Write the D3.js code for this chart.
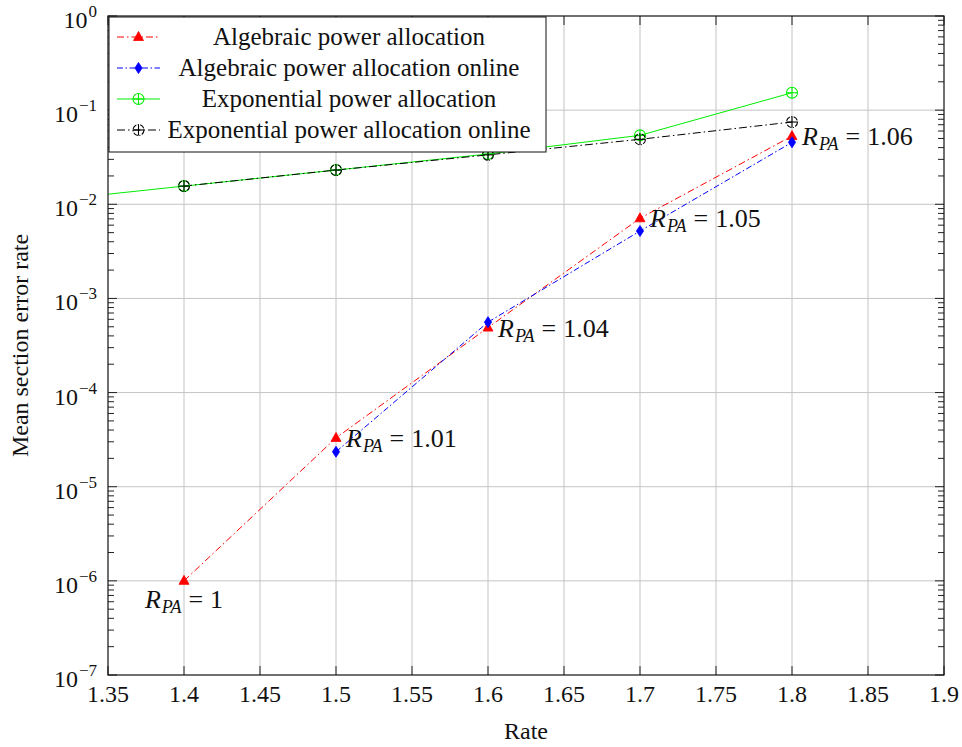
<!DOCTYPE html>
<html><head><meta charset="utf-8">
<script src="https://cdn.jsdelivr.net/npm/d3@7"></script>
<style>body{margin:0;background:#fff}svg{display:block}</style>
</head><body><svg id="c" width="962" height="747" font-family="Liberation Serif, Times New Roman, serif"></svg>
<script>
// ---- data ----
const rates = [1.4, 1.5, 1.6, 1.7, 1.8];
const algebraic = [1.0e-6, 3.3e-5, 4.9e-4, 7.1e-3, 0.053];
const algebraicOnline = [null, 2.35e-5, 5.6e-4, 5.2e-3, 0.0455];
const expRates = [1.3, 1.4, 1.5, 1.6, 1.7, 1.8];
const exponential = [0.0105, 0.0156, 0.0231, 0.0342, 0.054, 0.153];
const exponentialOnline = [null, 0.0156, 0.0231, 0.0335, 0.049, 0.0748];
const xTicks = [1.35, 1.4, 1.45, 1.5, 1.55, 1.6, 1.65, 1.7, 1.75, 1.8, 1.85, 1.9];
const yTickExps = [0, -1, -2, -3, -4, -5, -6, -7];
const rpaRates = [1.4, 1.5, 1.6, 1.7, 1.8];
const rpaLabels = ["1", "1.01", "1.04", "1.05", "1.06"];
const legendLabels = ["Algebraic power allocation", "Algebraic power allocation online", "Exponential power allocation", "Exponential power allocation online"];

// ---- layout ----
const svg = d3.select("#c");
const FF = "Liberation Serif";
const L = 108, R = 944, T = 16, B = 675;
const x = d3.scaleLinear().domain([1.35, 1.9]).range([L, R]);
const y = d3.scaleLog().domain([1e-7, 1]).range([B, T]);

svg.append("defs").append("clipPath").attr("id", "clip")
  .append("rect").attr("x", L).attr("y", T).attr("width", R - L).attr("height", B - T);

const grid = svg.append("g").attr("stroke", "#c4c4c4").attr("stroke-width", 1);
xTicks.slice(1, -1).forEach(v => grid.append("line").attr("x1", x(v)).attr("x2", x(v)).attr("y1", T).attr("y2", B));
yTickExps.slice(1, -1).forEach(e => grid.append("line").attr("x1", L).attr("x2", R).attr("y1", y(Math.pow(10, e))).attr("y2", y(Math.pow(10, e))));

// ticks
const tk = svg.append("g").attr("stroke", "#222").attr("stroke-width", 1);
xTicks.forEach(v => {
  tk.append("line").attr("x1", x(v)).attr("x2", x(v)).attr("y1", B).attr("y2", B - 9);
  tk.append("line").attr("x1", x(v)).attr("x2", x(v)).attr("y1", T).attr("y2", T + 9);
});
yTickExps.forEach(e => {
  const v = Math.pow(10, e);
  tk.append("line").attr("x1", L).attr("x2", L + 9).attr("y1", y(v)).attr("y2", y(v));
  tk.append("line").attr("x1", R).attr("x2", R - 9).attr("y1", y(v)).attr("y2", y(v));
  if (e > -7) for (let m = 2; m <= 9; m++) {
    const mv = m * Math.pow(10, e - 1);
    tk.append("line").attr("x1", L).attr("x2", L + 6).attr("y1", y(mv)).attr("y2", y(mv));
    tk.append("line").attr("x1", R).attr("x2", R - 6).attr("y1", y(mv)).attr("y2", y(mv));
  }
});

// tick labels
const fmt = v => String(+v.toFixed(2));
xTicks.forEach(v => svg.append("text").attr("font-family", FF).attr("fill", "#111").attr("x", x(v)).attr("y", B + 27).attr("text-anchor", "middle")
  .attr("font-size", 24).text(fmt(v)));
yTickExps.forEach(e => {
  const t = svg.append("text").attr("font-family", FF).attr("fill", "#111").attr("x", L - 11).attr("y", y(Math.pow(10, e)) + 12).attr("text-anchor", "end").attr("font-size", 24);
  t.append("tspan").text("10");
  t.append("tspan").attr("dy", -11).attr("dx", 1).attr("font-size", 17).text(e === 0 ? "0" : "\u2212" + (-e));
});

// axis labels
svg.append("text").attr("font-family", FF).attr("fill", "#111").attr("x", (L + R) / 2).attr("y", 739).attr("text-anchor", "middle").attr("font-size", 24).text("Rate");
svg.append("text").attr("font-family", FF).attr("fill", "#111").attr("transform", `translate(28,${(T + B) / 2}) rotate(-90)`).attr("text-anchor", "middle")
  .attr("font-size", 24).text("Mean section error rate");

// series
const series = [
  {xs: rates, ys: algebraic, color: "#ff0000", dash: "7,3,1.5,3", mark: "tri"},
  {xs: rates, ys: algebraicOnline, color: "#0000ff", dash: "6,2.5,1.5,2.5", mark: "dia"},
  {xs: expRates, ys: exponential, color: "#00ee00", dash: null, mark: "oplus"},
  {xs: expRates, ys: exponentialOnline, color: "#000000", dash: "8,3,1.5,3", mark: "oplusd"}
];
function drawMark(g, type, cx, cy, color) {
  if (type === "tri") {
    g.append("path").attr("d", `M${cx},${cy - 5.5}L${cx + 5},${cy + 3.5}L${cx - 5},${cy + 3.5}Z`).attr("fill", color).attr("stroke", color).attr("stroke-width", 0.8);
  } else if (type === "dia") {
    g.append("path").attr("d", `M${cx},${cy - 5.5}L${cx + 3.6},${cy}L${cx},${cy + 5.5}L${cx - 3.6},${cy}Z`).attr("fill", color).attr("stroke", color).attr("stroke-width", 0.8);
  } else {
    const r = 5.5;
    const gg = g.append("g").attr("stroke", color).attr("fill", "none").attr("stroke-width", 1.1);
    const c = gg.append("circle").attr("cx", cx).attr("cy", cy).attr("r", r);
    if (type === "oplusd") c.attr("stroke-dasharray", "5,1.5,1,1.5");
    gg.append("line").attr("x1", cx - r).attr("x2", cx + r).attr("y1", cy).attr("y2", cy);
    gg.append("line").attr("x1", cx).attr("x2", cx).attr("y1", cy - r).attr("y2", cy + r);
  }
}
const plot = svg.append("g").attr("clip-path", "url(#clip)");
const lineGen = d3.line().defined(d => d[1] != null).x(d => x(d[0])).y(d => y(d[1]));
series.forEach(s => {
  const pts = s.xs.map((v, i) => [v, s.ys[i]]);
  const p = plot.append("path").datum(pts).attr("d", lineGen).attr("fill", "none").attr("stroke", s.color).attr("stroke-width", 1);
  if (s.dash) p.attr("stroke-dasharray", s.dash);
});
series.forEach(s => {
  s.xs.forEach((v, i) => { if (s.ys[i] != null) drawMark(plot, s.mark, x(v), y(s.ys[i]), s.color); });
});

// R_PA annotations
function rpa(tx, ty, anchor, label) {
  const t = svg.append("text").attr("font-family", FF).attr("fill", "#111").attr("x", tx).attr("y", ty).attr("text-anchor", anchor).attr("font-size", 26);
  t.append("tspan").attr("font-style", "italic").text("R");
  t.append("tspan").attr("font-style", "italic").attr("font-size", 18).attr("dy", 5).attr("dx", 1).text("PA");
  t.append("tspan").attr("dy", -5).attr("dx", 7).text("=");
  t.append("tspan").attr("dx", 7).text(label);
}
rpaRates.forEach((r, i) => {
  const px = x(r), py = y(algebraic[i]);
  if (i === 0) rpa(px, py + 27, "middle", rpaLabels[i]);
  else rpa(px + 10, py + 9, "start", rpaLabels[i]);
});

// legend
const lg = svg.append("g");
lg.append("rect").attr("x", 109).attr("y", 17).attr("width", 437).attr("height", 135).attr("fill", "#fff").attr("stroke", "#111").attr("stroke-width", 1);
legendLabels.forEach((lab, i) => {
  const cy = 37 + i * 31;
  const s = series[i];
  const ln = lg.append("line").attr("x1", 117).attr("x2", 160).attr("y1", cy).attr("y2", cy).attr("stroke", s.color).attr("stroke-width", 1);
  if (s.dash) ln.attr("stroke-dasharray", s.dash);
  drawMark(lg, s.mark, 138.5, cy, s.color);
  lg.append("text").attr("font-family", FF).attr("fill", "#111").attr("x", 349).attr("y", cy + 8).attr("text-anchor", "middle").attr("font-size", 25).text(lab);
});

// frame
svg.append("rect").attr("x", L).attr("y", T).attr("width", R - L).attr("height", B - T).attr("fill", "none").attr("stroke", "#111").attr("stroke-width", 1.2);
</script></body></html>
